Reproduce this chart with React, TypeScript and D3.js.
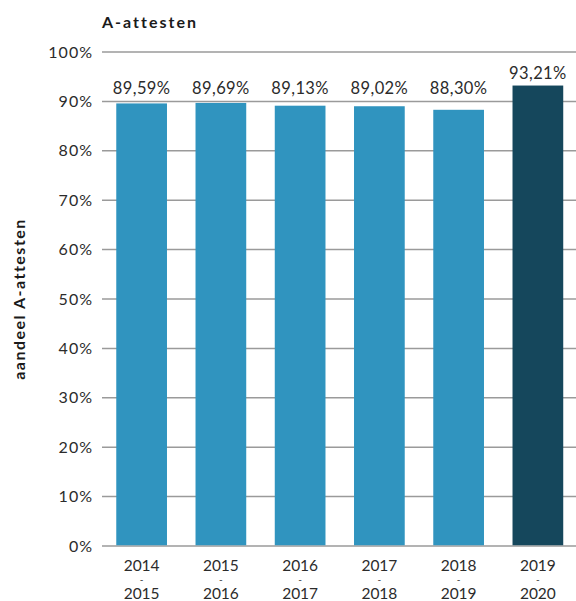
import React, { useEffect, useRef } from 'react';
import * as d3 from 'd3';

const periods = ['2014-2015', '2015-2016', '2016-2017', '2017-2018', '2018-2019', '2019-2020'];
const shares = [89.59, 89.69, 89.13, 89.02, 88.3, 93.21];
const yTicks = [0, 10, 20, 30, 40, 50, 60, 70, 80, 90, 100];

const WIDTH = 576;
const HEIGHT = 601;
const FONT = "Lato, 'Open Sans', sans-serif";

export default function App() {
  const svgRef = useRef<SVGSVGElement>(null);

  useEffect(() => {
    if (!svgRef.current) return;
    const svg = d3.select(svgRef.current);
    svg.selectAll('*').remove();

    const margin = { top: 52, right: 0, bottom: 55, left: 102 };

    const x = d3.scaleBand<string>()
      .domain(periods)
      .range([margin.left, WIDTH + 1.5])
      .paddingInner(0.36)
      .paddingOuter(0.18);

    const y = d3.scaleLinear()
      .domain([0, 100])
      .range([HEIGHT - margin.bottom, margin.top]);

    // Gridlines + tick labels
    const grid = svg.append('g');
    grid.selectAll('line')
      .data(yTicks)
      .enter()
      .append('line')
      .attr('x1', margin.left)
      .attr('x2', WIDTH)
      .attr('y1', d => y(d))
      .attr('y2', d => y(d))
      .attr('stroke', '#9a9a9a')
      .attr('stroke-width', 1.5);

    grid.selectAll('text')
      .data(yTicks)
      .enter()
      .append('text')
      .attr('x', 93)
      .attr('y', d => y(d))
      .attr('dy', '0.35em')
      .attr('text-anchor', 'end')
      .attr('font-size', '16px')
      .attr('letter-spacing', '1px')
      .attr('fill', '#2b2b2b')
      .text(d => `${d}%`);

    // Bars
    svg.append('g')
      .selectAll('rect')
      .data(periods)
      .enter()
      .append('rect')
      .attr('x', d => x(d)!)
      .attr('y', (d, i) => y(shares[i]))
      .attr('width', x.bandwidth())
      .attr('height', (d, i) => y(0) - y(shares[i]) - 0.75)
      .attr('fill', (d, i) => (i === periods.length - 1 ? '#15475c' : '#3094bf'));

    // Value labels (kept above the 90% gridline)
    svg.append('g')
      .selectAll('text')
      .data(periods)
      .enter()
      .append('text')
      .attr('x', d => x(d)! + x.bandwidth() / 2)
      .attr('y', (d, i) => Math.min(y(shares[i]), y(90)) - 7)
      .attr('text-anchor', 'middle')
      .attr('font-size', '16.5px')
      .attr('letter-spacing', '0.4px')
      .attr('fill', '#2b2b2b')
      .text((d, i) => shares[i].toFixed(2).replace('.', ',') + '%');

    // X labels: start year, small dash, end year as separate lines
    const xl = svg.append('g')
      .selectAll('g')
      .data(periods)
      .enter()
      .append('g')
      .attr('transform', d => `translate(${x(d)! + x.bandwidth() / 2}, 0)`)
      .attr('text-anchor', 'middle')
      .attr('fill', '#2b2b2b');
    xl.append('text').attr('y', 571).attr('font-size', '15.5px').text(d => d.split('-')[0]);
    xl.append('text').attr('y', 583).attr('font-size', '10px').text('-');
    xl.append('text').attr('y', 599).attr('font-size', '15.5px').text(d => d.split('-')[1]);

    // Title
    svg.append('text')
      .attr('x', margin.left)
      .attr('y', 28)
      .attr('font-size', '16px')
      .attr('font-weight', 'bold')
      .attr('fill', '#1a1a1a')
      .attr('letter-spacing', '2px')
      .text('A-attesten');

    // Y axis title
    svg.append('text')
      .attr('transform', `translate(25, ${(y(0) + y(100)) / 2}) rotate(-90)`)
      .attr('text-anchor', 'middle')
      .attr('font-size', '16px')
      .attr('font-weight', 'bold')
      .attr('fill', '#1a1a1a')
      .attr('letter-spacing', '1.5px')
      .text('aandeel A-attesten');
  }, []);

  return (
    <svg
      ref={svgRef}
      width={WIDTH}
      height={HEIGHT}
      style={{ position: 'absolute', left: 0, top: 0, fontFamily: FONT, background: '#fff' }}
    />
  );
}
